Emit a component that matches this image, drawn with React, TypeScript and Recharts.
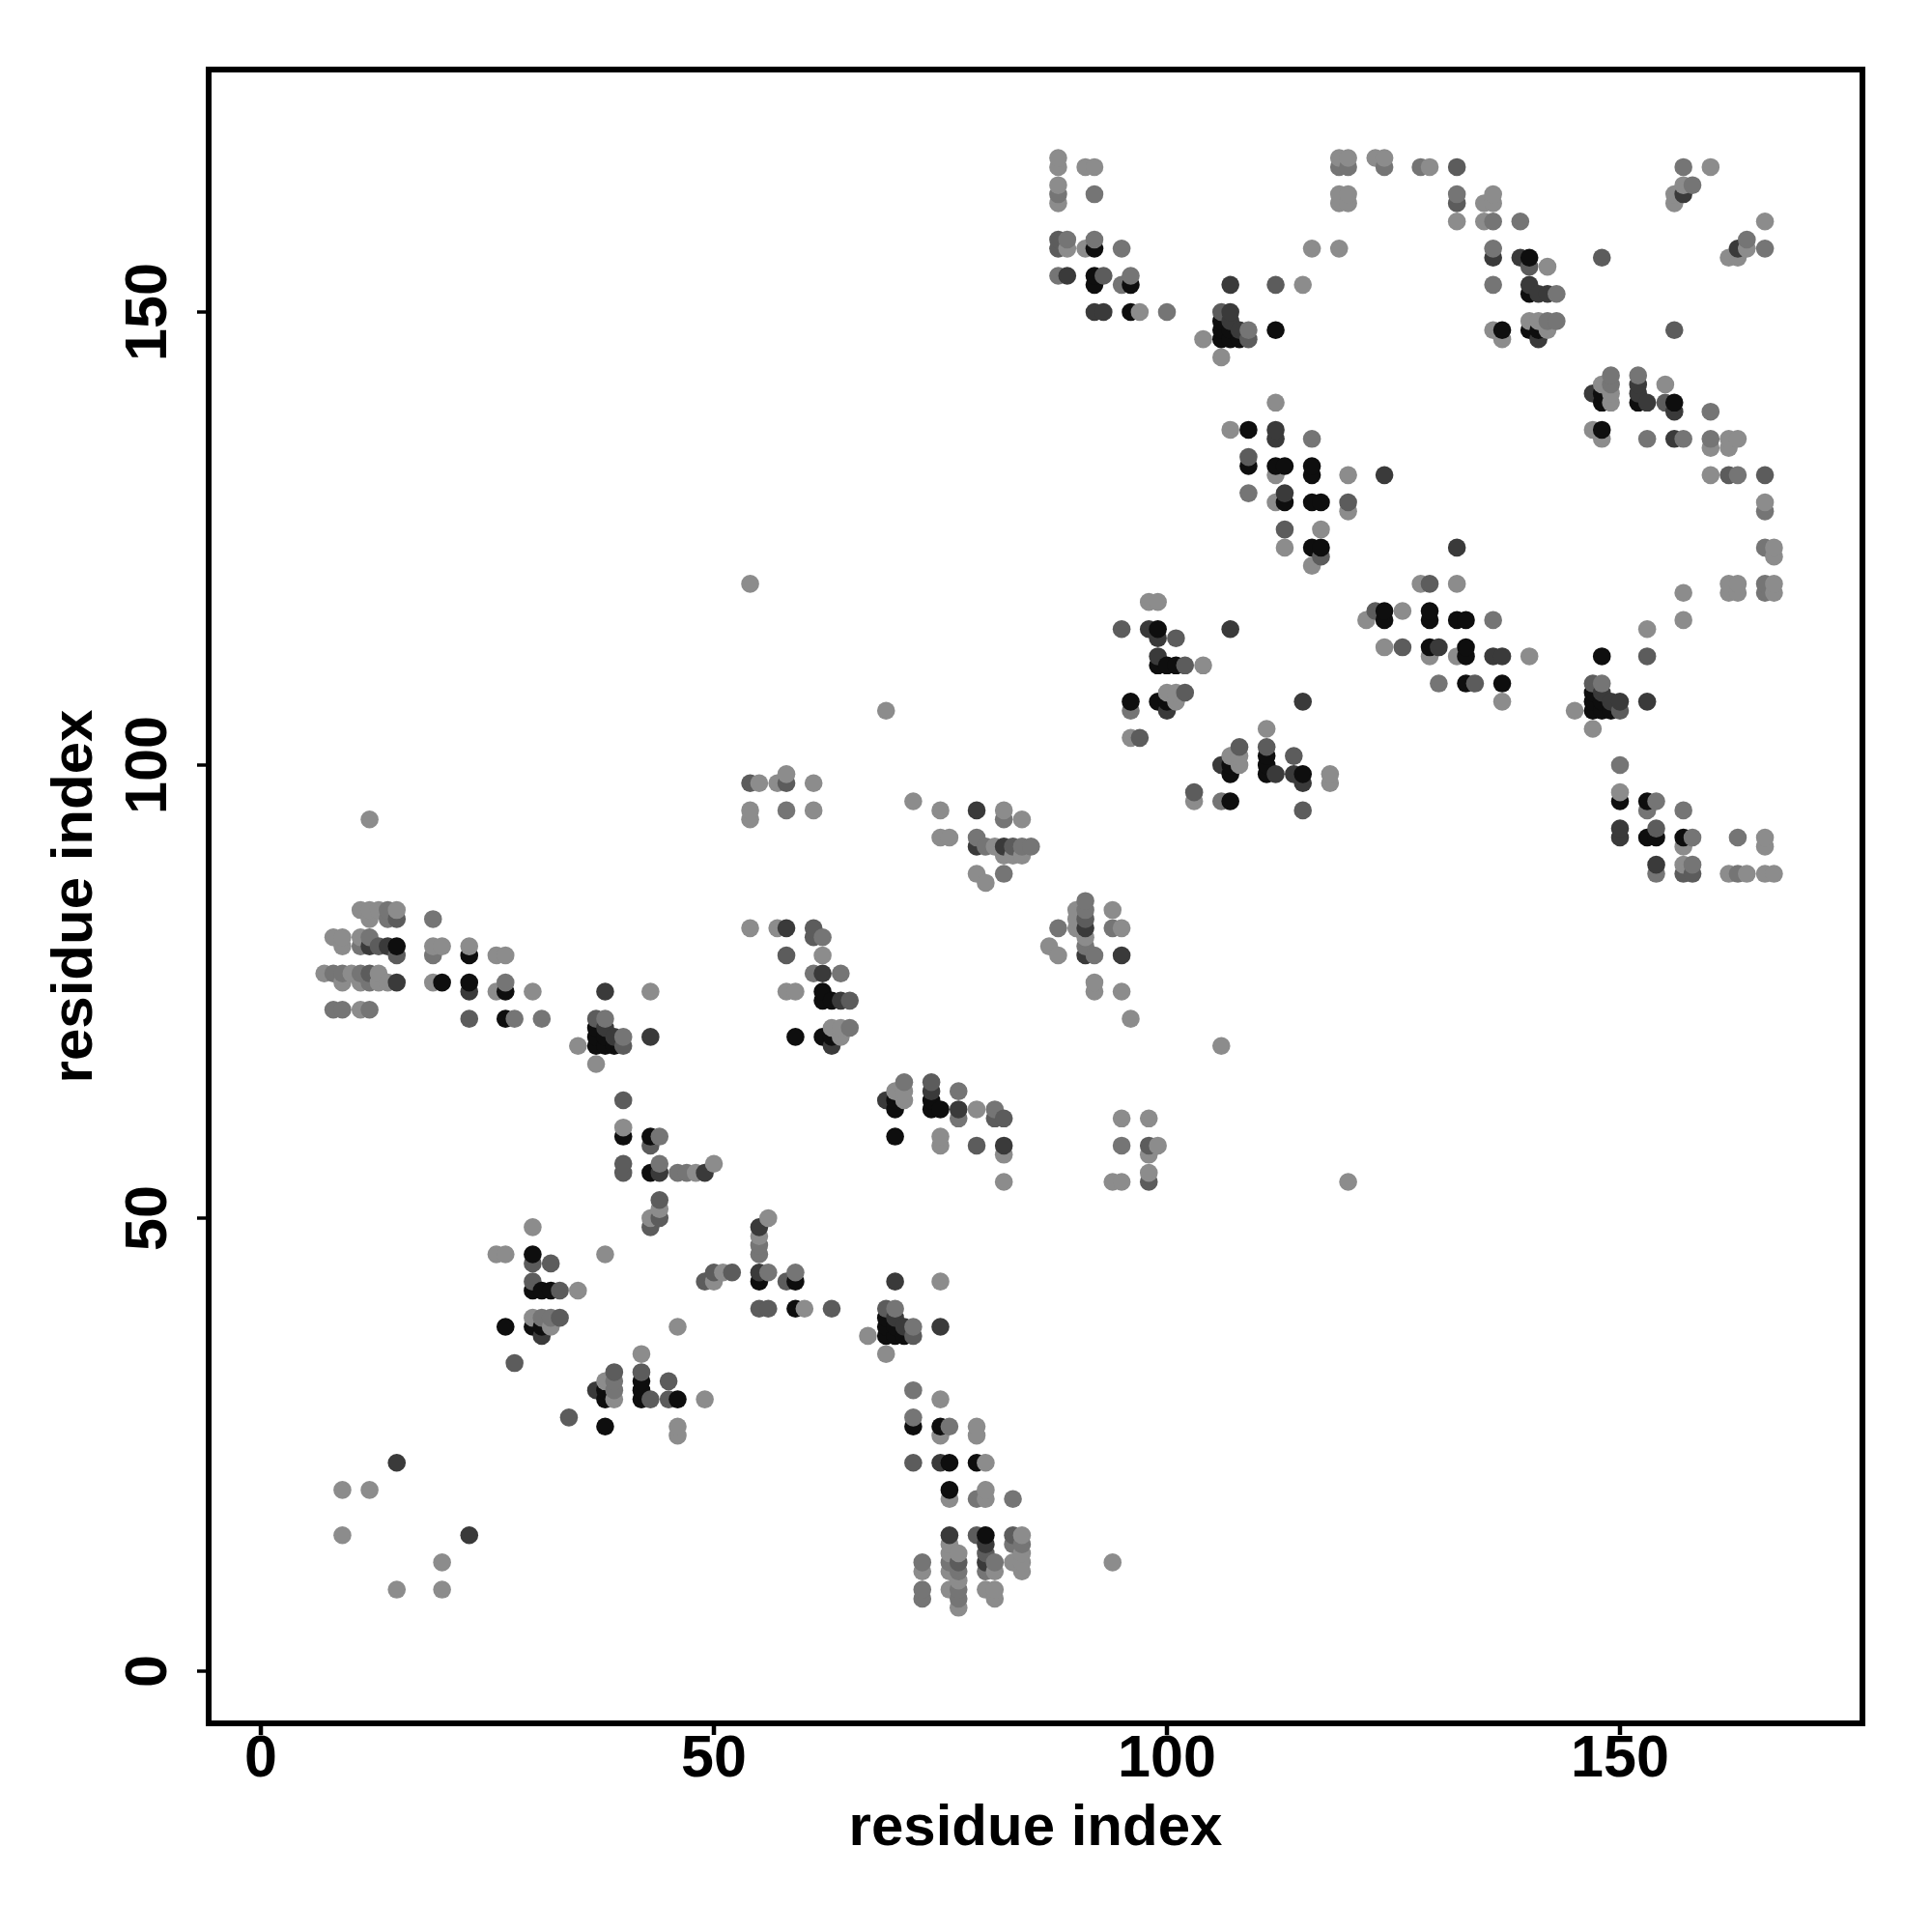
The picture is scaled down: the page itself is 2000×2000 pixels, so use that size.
import { ScatterChart, Scatter, XAxis, YAxis, ReferenceArea, Cell } from 'recharts';

type Contact = [number, number];

const FONT = '"Liberation Sans", Arial, sans-serif';
const TICKS = [0, 50, 100, 150];
const AXIS_LABEL = 'residue index';

// contacts grouped by how dark the dot is as [i, j]
const lightest: Contact[] = [
  [30,49],[26,46],[27,46],[38,46],[35,42],[30,39],[32,38],[9,20],[12,20],[9,15],[43,50],[44,51],[40,60],[48,55],[50,56],[35,69],[37,67],[43,75],
  [19,76],[23,80],[19,80],[20,80],[26,75],[26,79],[27,79],[30,75],
  [11,84],[12,84],[13,84],[15,84],[12,83],[8,81],[9,81],[11,81],[9,80],[7,77],[10,77],[13,77],[9,76],[11,76],[13,76],[14,76],[11,73],[12,94],
  [54,82],[57,82],[62,79],[58,75],[59,75],[63,71],[64,71],[64,70],[55,98],[57,98],[58,99],[61,98],[54,95],[54,94],[61,95],[54,120],[69,106],
  [72,96],[75,95],[82,95],[84,94],[75,92],[76,92],[81,91],[82,90],[83,90],[84,90],[79,88],[80,87],
  [88,167],[88,166],[91,166],[92,166],[88,164],[88,162],[89,157],[91,157],[97,150],
  [104,147],[106,145],[115,153],[116,157],[119,157],
  [112,140],[107,137],[112,132],[120,132],[112,129],[120,128],[117,126],[113,124],[116,122],
  [119,167],[120,167],[123,167],[124,167],[129,166],[119,163],[120,163],[119,162],[120,162],[132,160],[136,163],[135,162],[136,162],[135,160],[142,155],[140,149],[141,149],[136,148],[142,148],[137,147],[160,166],[157,164],[156,163],[156,162],
  [98,118],[99,118],[104,111],[100,108],[101,108],[101,107],[96,103],
  [49,30],[46,26],[46,27],[46,38],[42,35],[39,30],[38,32],[20,9],[20,12],[15,9],[50,43],[51,44],[60,40],[55,48],[56,50],[69,35],[67,37],[75,43],
  [76,19],[80,23],[80,19],[80,20],[75,26],[79,26],[79,27],[75,30],
  [84,11],[84,12],[84,13],[84,15],[83,12],[81,8],[81,9],[81,11],[80,9],[77,7],[77,10],[77,13],[76,9],[76,11],[76,13],[76,14],[73,11],[94,12],
  [82,54],[82,57],[79,62],[75,58],[75,59],[71,63],[71,64],[70,64],[98,55],[98,57],[99,58],[98,61],[95,54],[94,54],[95,61],[120,54],[106,69],
  [96,72],[95,75],[95,82],[94,84],[92,75],[92,76],[91,81],[90,82],[90,83],[90,84],[88,79],[87,80],
  [167,88],[166,88],[166,91],[166,92],[164,88],[162,88],[157,89],[157,91],[150,97],
  [147,104],[145,106],[153,115],[157,116],[157,119],
  [140,112],[137,107],[132,112],[132,120],[129,112],[128,120],[126,117],[124,113],[122,116],
  [167,119],[167,120],[167,123],[167,124],[166,129],[163,119],[163,120],[162,119],[162,120],[160,132],[163,136],[162,135],[162,136],[160,135],[155,142],[149,140],[149,141],[148,136],[148,142],[147,137],[166,160],[164,157],[163,156],[162,156],
  [118,98],[118,99],[111,104],[108,100],[108,101],[107,101],[103,96],
];

const lighter: Contact[] = [
  [31,39],[32,39],[44,56],[44,59],[40,70],[38,72],[27,76],[19,79],[19,83],[28,72],[31,72],[46,55],[47,55],
  [14,84],[14,83],[12,81],[11,80],[8,77],[9,77],[11,77],[12,76],[8,73],[9,73],[12,73],
  [62,81],[61,77],[64,77],[65,71],[58,95],[82,94],[79,92],[80,91],[84,91],[85,91],[82,88],
  [88,163],[89,158],[92,163],[92,158],[95,157],[88,154],[95,153],[96,154],[100,150],
  [109,148],[116,136],[109,130],[124,166],[119,166],[120,166],[128,166],[132,163],[136,160],[139,160],[136,157],[136,153],[143,152],[142,149],[143,149],[157,166],[158,164],[96,106],
  [39,31],[39,32],[56,44],[59,44],[70,40],[72,38],[76,27],[79,19],[83,19],[72,28],[72,31],[55,46],[55,47],
  [84,14],[83,14],[81,12],[80,11],[77,8],[77,9],[77,11],[76,12],[73,8],[73,9],[73,12],
  [81,62],[77,61],[77,64],[71,65],[95,58],[94,82],[92,79],[91,80],[91,84],[91,85],[88,82],
  [163,88],[158,89],[163,92],[158,92],[157,95],[154,88],[153,95],[154,96],[150,100],
  [148,109],[136,116],[130,109],[166,124],[166,119],[166,120],[166,128],[163,132],[160,136],[160,139],[157,136],[153,136],[152,143],[149,142],[149,143],[166,157],[164,158],[106,96],
];

const medium: Contact[] = [
  [30,45],[30,43],[32,45],[33,42],[33,39],[28,34],[43,49],[44,50],[44,52],[40,55],[40,56],[40,63],[43,58],[37,72],[40,69],[23,72],[15,83],[13,80],[15,79],[12,77],
  [61,82],[61,81],[58,79],[65,74],[54,98],[58,98],[83,91],[88,158],[88,157],[93,154],[109,147],[112,153],[109,134],[120,129],[113,126],[117,123],[132,166],[132,162],[140,155],[148,156],[95,115],[101,114],[102,111],[102,108],[97,103],[106,150],
  [45,30],[43,30],[45,32],[42,33],[39,33],[34,28],[49,43],[50,44],[52,44],[55,40],[56,40],[63,40],[58,43],[72,37],[69,40],[72,23],[83,15],[80,13],[79,15],[77,12],
  [82,61],[81,61],[79,58],[74,65],[98,54],[98,58],[91,83],[158,88],[157,88],[154,93],[147,109],[153,112],[134,109],[129,120],[126,113],[123,117],[166,132],[162,132],[155,140],[156,148],[115,95],[114,101],[111,102],[108,102],[103,97],[150,106],
];

const dark: Contact[] = [
  [31,37],[15,23],[44,55],[39,70],[38,71],[43,70],[38,75],[23,75],[14,80],[12,80],[15,76],[58,82],[62,77],[64,74],[63,69],[79,95],[79,91],[82,91],[89,154],[92,150],[93,150],
  [107,150],[107,149],[108,148],[107,153],[112,137],[112,136],[124,132],[113,130],[139,156],[140,153],[141,147],[141,152],[142,152],[157,163],[136,156],[99,114],[99,112],[98,115],[107,115],[100,106],[49,55],
  [37,31],[23,15],[55,44],[70,39],[71,38],[70,43],[75,38],[75,23],[80,14],[80,12],[76,15],[82,58],[77,62],[74,64],[69,63],[95,79],[91,79],[91,82],[154,89],[150,92],[150,93],
  [150,107],[149,107],[148,108],[153,107],[137,112],[136,112],[132,124],[130,113],[156,139],[153,140],[147,141],[152,141],[152,142],[163,157],[156,136],[114,99],[112,99],[115,98],[115,107],[106,100],[55,49],
];

const darkest: Contact[] = [
  [30,46],[30,42],[31,42],[32,42],[27,38],[30,38],[31,38],[43,55],[40,59],[43,59],[37,71],[37,70],[38,70],[37,69],[38,69],[39,69],[20,76],[23,76],[23,79],[27,75],[27,72],[15,80],
  [62,75],[62,74],[63,74],[59,70],[62,70],[63,70],[92,157],[92,154],[92,153],[96,153],[96,150],[106,149],[106,148],[107,148],[106,147],[107,147],[108,147],[112,148],
  [109,137],[109,133],[112,133],[113,133],[116,133],[116,132],[113,129],[116,129],[117,129],[116,124],[117,124],[140,156],[140,152],[137,148],[140,148],[141,148],[99,115],[99,111],[100,111],[101,111],[96,107],[99,107],[100,107],
  [46,30],[42,30],[42,31],[42,32],[38,27],[38,30],[38,31],[55,43],[59,40],[59,43],[71,37],[70,37],[70,38],[69,37],[69,38],[69,39],[76,20],[76,23],[79,23],[75,27],[72,27],[80,15],
  [75,62],[74,62],[74,63],[70,59],[70,62],[70,63],[157,92],[154,92],[153,92],[153,96],[150,96],[149,106],[148,106],[148,107],[147,106],[147,107],[147,108],[148,112],
  [137,109],[133,109],[133,112],[133,113],[133,116],[132,116],[129,113],[129,116],[129,117],[124,116],[124,117],[156,140],[152,140],[148,137],[148,140],[148,141],[115,99],[111,99],[111,100],[111,101],[107,96],[107,99],[107,100],
];

const SHADES: [Contact[], string][] = [
  [lightest, '#8c8c8c'],
  [lighter, '#757575'],
  [medium, '#5c5c5c'],
  [dark, '#3a3a3a'],
  [darkest, '#0e0e0e'],
];

// the original draws column by column, so later columns sit on top
const points = SHADES.flatMap(([list, fill]) => list.map(([x, y]) => ({ x, y, fill }))).sort((a, b) => a.x - b.x || a.y - b.y);

const DOMAIN: [number, number] = [-5.76, 176.76];
const DOT_RADIUS = 9.3;

function Dot({ cx, cy, fill }: { cx?: number; cy?: number; fill?: string }) {
  return <circle cx={cx} cy={cy} r={DOT_RADIUS} fill={fill} />;
}

function RotatedTick({ x, y, payload }: { x: number; y: number; payload: { value: number } }) {
  const tx = x - 30;
  return (
    <text x={tx} y={y} transform={`rotate(-90 ${tx} ${y})`} textAnchor="middle" fontFamily={FONT} fontSize={61} fontWeight={700} fill="#000">
      {payload.value}
    </text>
  );
}

export default function App() {
  return (
    <div style={{ position: 'absolute', left: 0, top: 0, width: 2000, height: 2000, background: '#fff' }}>
      <ScatterChart width={2000} height={2000} margin={{ top: 72, right: 72, bottom: 0, left: 0 }}>
        <XAxis
          type="number"
          dataKey="x"
          domain={DOMAIN}
          ticks={TICKS}
          interval={0}
          height={216}
          axisLine={false}
          tickSize={12}
          tickMargin={0}
          tickLine={{ stroke: '#000', strokeWidth: 4.5 }}
          tick={{ fontFamily: FONT, fontSize: 61, fontWeight: 700, fill: '#000' }}
          label={{
            value: AXIS_LABEL,
            position: 'insideBottom',
            offset: 90,
            style: { fontFamily: FONT, fontSize: 60, fontWeight: 700, fill: '#000' },
          }}
        />
        <YAxis
          type="number"
          dataKey="y"
          domain={DOMAIN}
          ticks={TICKS}
          interval={0}
          width={216}
          axisLine={false}
          tickSize={12}
          tickMargin={2}
          tickLine={{ stroke: '#000', strokeWidth: 3.5 }}
          tick={RotatedTick}
          label={{
            value: AXIS_LABEL,
            angle: -90,
            position: 'insideLeft',
            offset: 74,
            style: { textAnchor: 'middle', fontFamily: FONT, fontSize: 60, fontWeight: 700, fill: '#000' },
          }}
        />
        <Scatter data={points} isAnimationActive={false} shape={Dot}>
          {points.map((p) => (
            <Cell key={`${p.x}-${p.y}`} fill={p.fill} />
          ))}
        </Scatter>
        <ReferenceArea x1={DOMAIN[0]} x2={DOMAIN[1]} y1={DOMAIN[0]} y2={DOMAIN[1]} fill="none" stroke="#000" strokeWidth={6} ifOverflow="visible" />
      </ScatterChart>
    </div>
  );
}
